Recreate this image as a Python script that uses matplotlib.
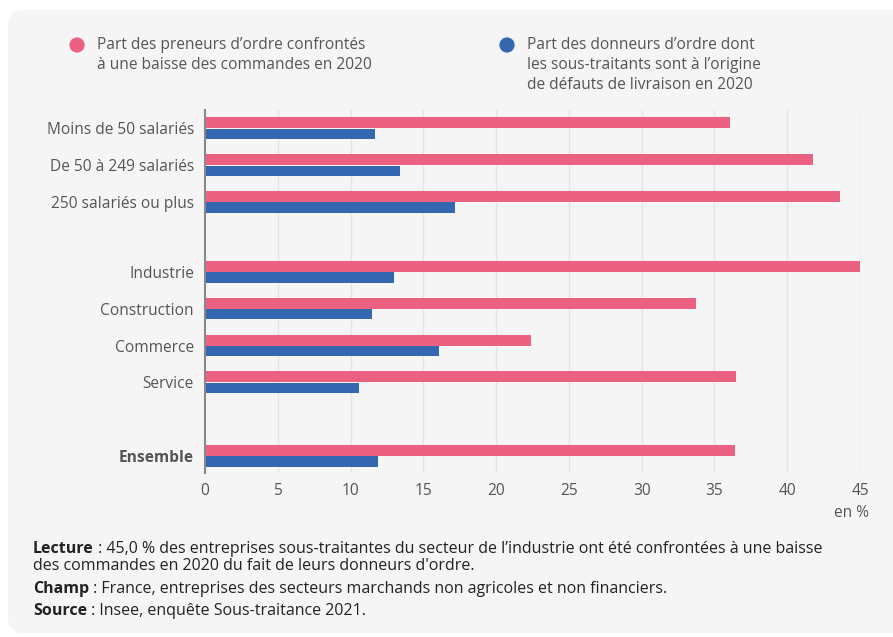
import matplotlib
matplotlib.use("Agg")
import matplotlib.pyplot as plt
from matplotlib.patches import FancyBboxPatch

plt.rcParams["font.family"] = ["Open Sans", "DejaVu Sans"]
FS = 11.2
plt.rcParams["font.size"] = FS

PINK = "#ec6181"
BLUE = "#3467b0"
GREY_TXT = "#555555"
NOTE_TXT = "#222222"

# ---- data -----------------------------------------------------------------
categories = ["Moins de 50 salariés", "De 50 à 249 salariés", "250 salariés ou plus",
              "Industrie", "Construction", "Commerce", "Service", "Ensemble"]
baisse_commandes = [36.1, 41.8, 43.6, 45.0, 33.7, 22.4, 36.5, 36.4]
defauts_livraison = [11.7, 13.4, 17.2, 13.0, 11.5, 16.1, 10.6, 11.9]
xticks = [0, 5, 10, 15, 20, 25, 30, 35, 40, 45]
legend_labels = ["Part des preneurs d’ordre confrontés\nà une baisse des commandes en 2020",
                 "Part des donneurs d’ordre dont\nles sous-traitants sont à l’origine\n"
                 "de défauts de livraison en 2020"]

# row layout (gaps between groups)
ypos = [0, 1, 2, 3.9, 4.9, 5.9, 6.9, 8.9]

W, H = 893, 637
fig = plt.figure(figsize=(W / 100, H / 100), dpi=100)

# background panel + decorations in pixel coordinates
bg = fig.add_axes([0, 0, 1, 1], zorder=0)
bg.set_xlim(0, W)
bg.set_ylim(H, 0)
bg.axis("off")
bg.add_patch(FancyBboxPatch((8, 10), W + 40, 623, boxstyle="round,pad=0,rounding_size=16",
                            fc="#f5f5f5", ec="none"))

# legend
for (x, lab, col) in [(77, legend_labels[0], PINK), (507, legend_labels[1], BLUE)]:
    bg.scatter([x], [45], s=120, color=col, edgecolor="none")
    bg.text(x + 20, 37, lab, color=GREY_TXT, fontsize=FS, va="top", ha="left",
            linespacing=1.33)

# ---- bars -----------------------------------------------------------------
ax = fig.add_axes([205 / W, 1 - 473 / H, 655 / W, (473 - 110) / H], zorder=1)
ax.set_facecolor("none")
ax.barh([y - 0.15 for y in ypos], baisse_commandes, height=0.3, color=PINK, zorder=3)
ax.barh([y + 0.15 for y in ypos], defauts_livraison, height=0.28, color=BLUE, zorder=3)

ax.set_xlim(0, 45)
ax.set_ylim(9.36, -0.5)
ax.set_xticks(xticks)
ax.set_xticklabels([str(t) for t in xticks])
ax.set_yticks(ypos)
ax.set_yticklabels(categories)
ax.tick_params(length=0, colors=GREY_TXT, labelsize=FS)
ax.tick_params(axis="y", pad=8)
ax.tick_params(axis="x", pad=7)
ax.get_yticklabels()[-1].set_fontweight("bold")
for t in xticks[1:]:
    ax.axvline(t, color="#e4e4e4", lw=1, zorder=1)
for s in ["top", "right", "bottom"]:
    ax.spines[s].set_visible(False)
ax.spines["left"].set_color("#888888")
ax.spines["left"].set_linewidth(1.5)
ax.spines["left"].set_zorder(4)

bg.text(869, 513, "en %", color=GREY_TXT, fontsize=FS, ha="right", va="center")

# ---- notes ----------------------------------------------------------------
NFS = 11.5
notes = [
    ("Lecture", " : 45,0 % des entreprises sous-traitantes du secteur de l’industrie ont été "
                "confrontées à une baisse\ndes commandes en 2020 du fait de leurs donneurs d'ordre.", 549),
    ("Champ", " : France, entreprises des secteurs marchands non agricoles et non financiers.", 589),
    ("Source", " : Insee, enquête Sous-traitance 2021.", 611),
]
for bold, rest, y in notes:
    tb = bg.text(33, y, bold, fontweight="bold", color=NOTE_TXT, fontsize=NFS,
                 va="center", ha="left")
    first = rest.split("\n")[0]
    bg.annotate(first, xy=(1, 0), xycoords=tb, va="bottom", ha="left",
                color=NOTE_TXT, fontsize=NFS)
    if "\n" in rest:
        bg.text(33, y + 17, rest.split("\n")[1], color=NOTE_TXT, fontsize=NFS,
                va="center", ha="left")

fig.savefig("out.png", dpi=100)
